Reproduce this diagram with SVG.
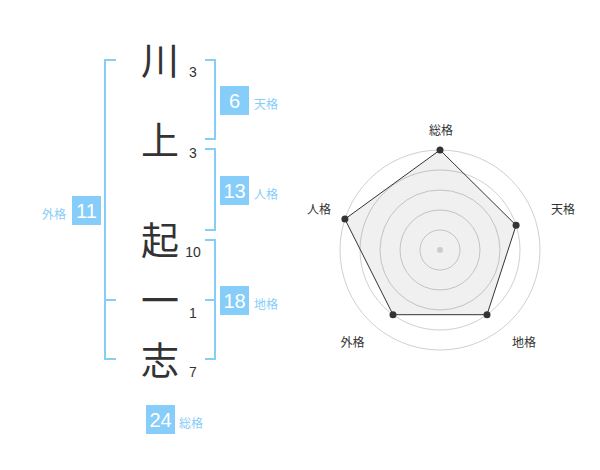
<svg xmlns="http://www.w3.org/2000/svg" width="600" height="470" viewBox="0 0 600 470">
<style>
.bk{fill:none;stroke:#86cdf9;stroke-width:2}
.box{fill:#86cdf9}
.bn{font-family:"Liberation Sans",Arial,sans-serif;font-size:20px;fill:#fff;text-anchor:middle}
.bl{font-family:"Noto Sans CJK JP",sans-serif;font-size:12px;fill:#86cdf9}
.ch{font-family:"Noto Sans CJK JP",sans-serif;font-size:38px;fill:#333;text-anchor:middle}
.st{font-family:"Liberation Sans",Arial,sans-serif;font-size:14px;fill:#333;text-anchor:middle}
.rl{font-family:"Noto Sans CJK JP",sans-serif;font-size:12px;fill:#333;text-anchor:middle}
.ring{fill:none;stroke:#d0d0d0;stroke-width:1}
.pt{fill:#333}
</style>
<rect width="600" height="470" fill="#fff"/>
<g id="connectors">
<path class="bk" d="M116,60 H105 V359 H116 M105,300 H116"/>
<path class="bk" d="M205,60 H215 V139 H205"/>
<path class="bk" d="M205,149 H215 V230 H205"/>
<path class="bk" d="M205,240 H215 V359 H205 M205,300 H215"/>
</g>
<g id="char-kawa"><text class="ch" x="160" y="74">川</text><text class="st" x="193" y="77">3</text></g>
<g id="char-ue"><text class="ch" x="160" y="154">上</text><text class="st" x="193" y="158">3</text></g>
<g id="char-oki"><text class="ch" x="160" y="254">起</text><text class="st" x="193" y="257">10</text></g>
<g id="char-ichi"><text class="ch" x="160" y="314">一</text><text class="st" x="193" y="318">1</text></g>
<g id="char-shi"><text class="ch" x="160" y="374">志</text><text class="st" x="193" y="377">7</text></g>
<g id="tenkaku"><rect class="box" x="220" y="86" width="29" height="29"/><text class="bn" x="234.5" y="107.5">6</text><text class="bl" x="254" y="109">天格</text></g>
<g id="jinkaku"><rect class="box" x="220" y="176" width="29" height="29"/><text class="bn" x="234.5" y="197.5">13</text><text class="bl" x="254" y="199">人格</text></g>
<g id="chikaku"><rect class="box" x="220" y="286" width="29" height="29"/><text class="bn" x="234.5" y="307.5">18</text><text class="bl" x="254" y="309">地格</text></g>
<g id="gaikaku"><rect class="box" x="72" y="196" width="29" height="29"/><text class="bn" x="86.5" y="217.5">11</text><text class="bl" x="66" y="219" text-anchor="end">外格</text></g>
<g id="sokaku"><rect class="box" x="146" y="405" width="29" height="29"/><text class="bn" x="160.5" y="426.5">24</text><text class="bl" x="179" y="428">総格</text></g>
<g id="radar">
<circle class="ring" cx="440" cy="250" r="100"/>
<circle class="ring" cx="440" cy="250" r="80"/>
<circle class="ring" cx="440" cy="250" r="60"/>
<circle class="ring" cx="440" cy="250" r="40"/>
<circle class="ring" cx="440" cy="250" r="20"/>
<polygon points="440,150 516.1,225.3 487,314.7 393,314.7 344.9,219.1" fill="#000" fill-opacity="0.06" stroke="#333" stroke-width="1"/>
<circle cx="440" cy="250" r="3" fill="#ccc"/>
<circle class="pt" cx="440" cy="150" r="3.5"/>
<circle class="pt" cx="516.1" cy="225.3" r="3.5"/>
<circle class="pt" cx="487" cy="314.7" r="3.5"/>
<circle class="pt" cx="393" cy="314.7" r="3.5"/>
<circle class="pt" cx="344.9" cy="219.1" r="3.5"/>
<text class="rl" x="441" y="135">総格</text>
<text class="rl" x="563" y="213.5">天格</text>
<text class="rl" x="319" y="213.5">人格</text>
<text class="rl" x="352.5" y="346.5">外格</text>
<text class="rl" x="524" y="346.5">地格</text>
</g>
</svg>
